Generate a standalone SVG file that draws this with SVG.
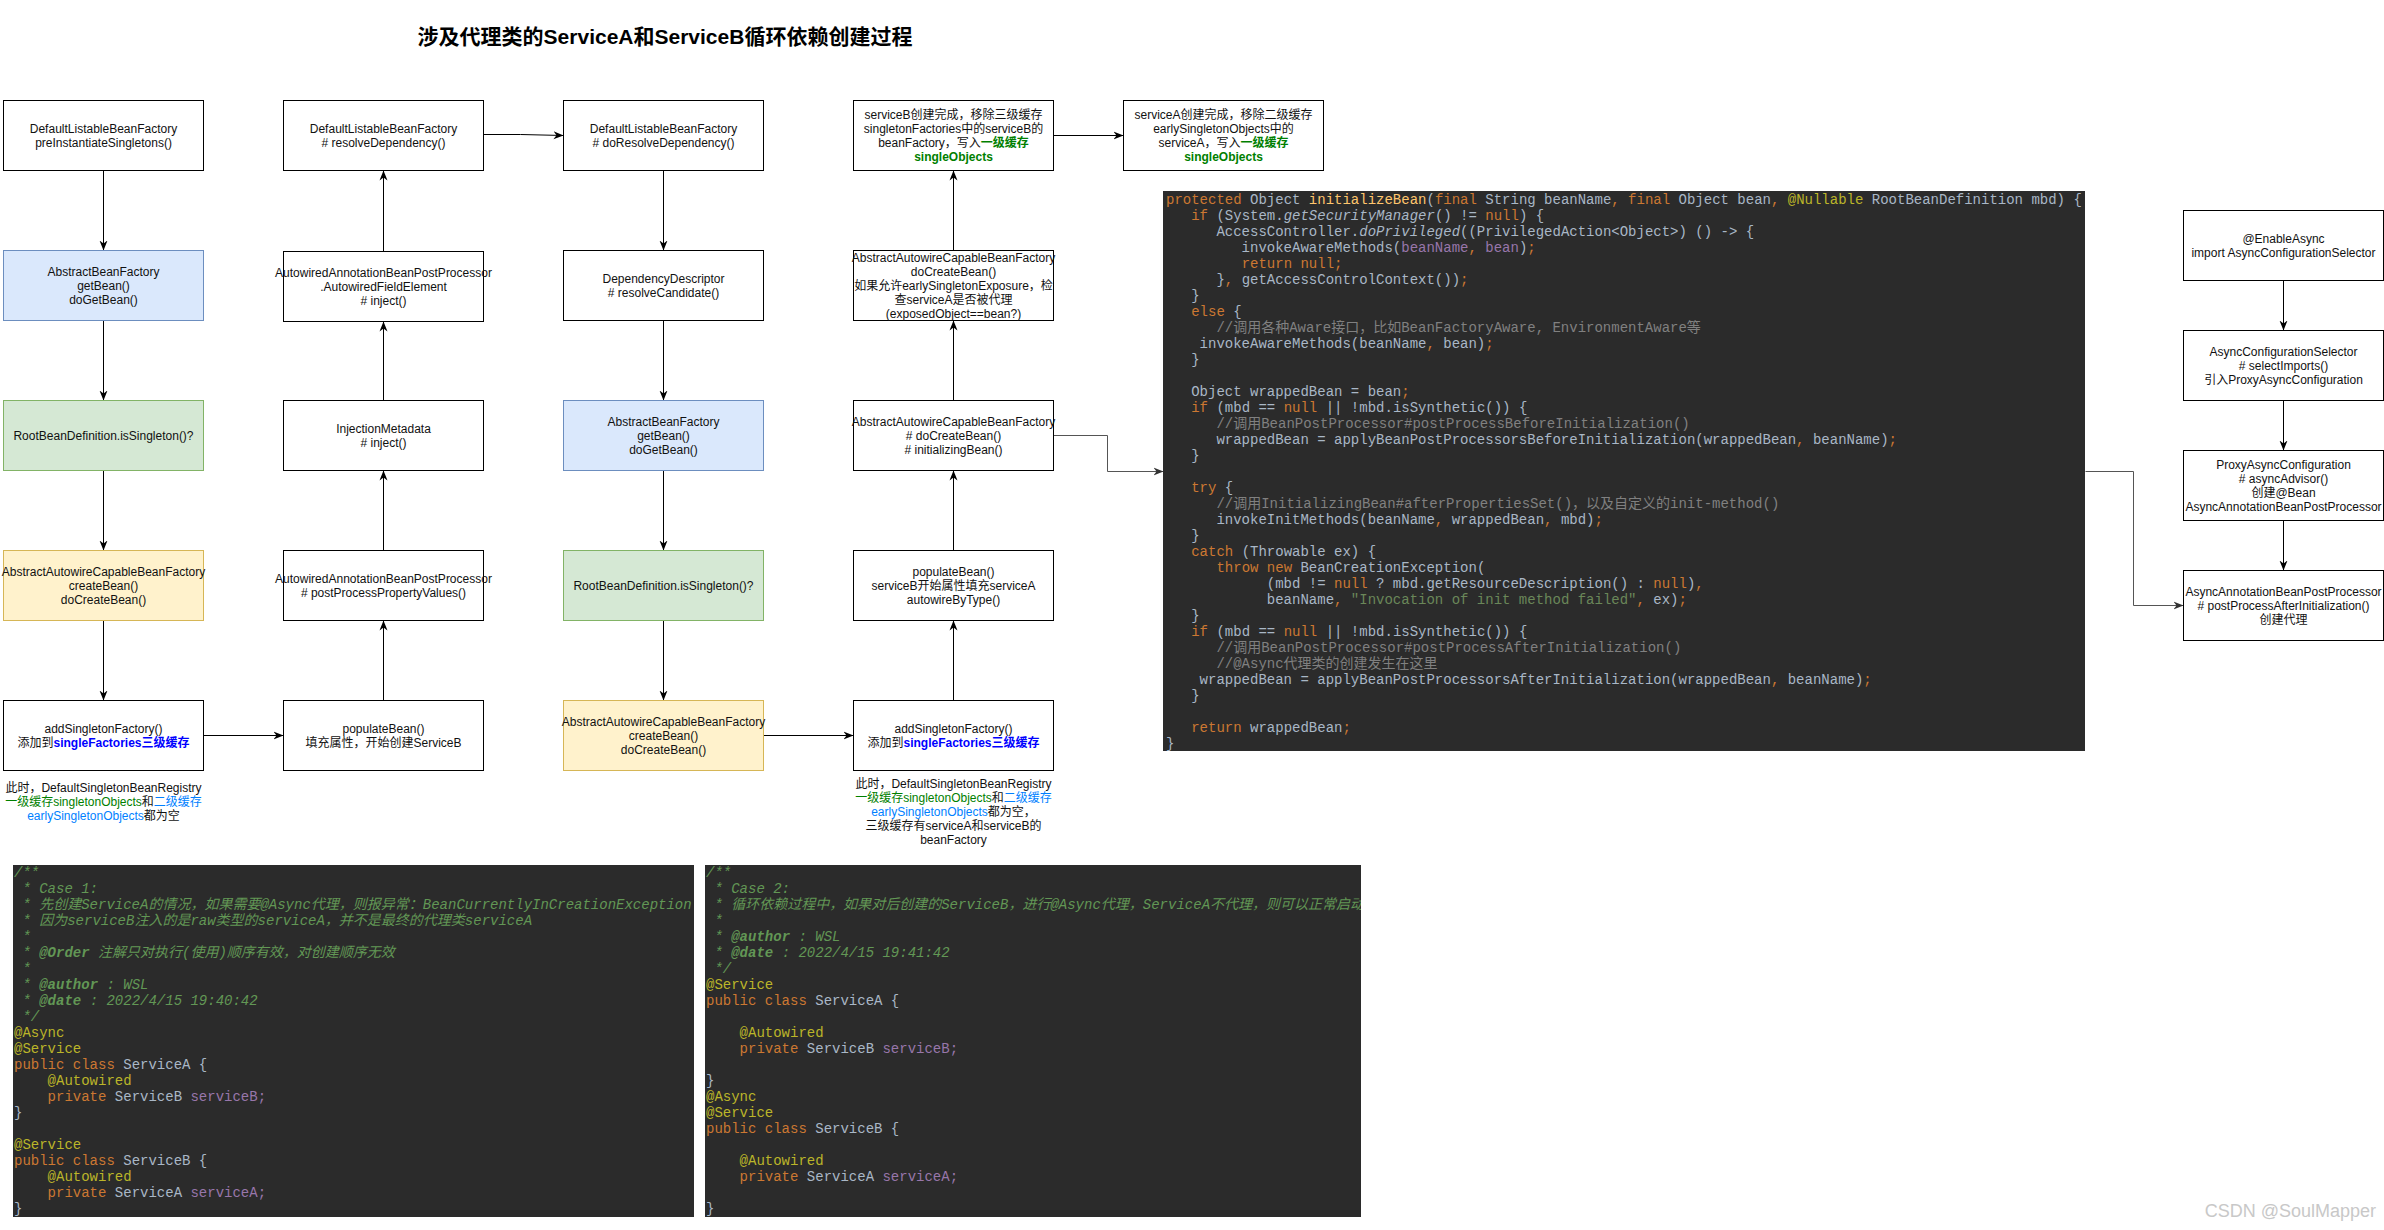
<svg xmlns="http://www.w3.org/2000/svg" width="2384" height="1230" viewBox="0 0 2384 1230">
<style>
.bx{fill:#fff;stroke:#000;stroke-width:1}
.blue{fill:#dae8fc;stroke:#6c8ebf;stroke-width:1}
.green{fill:#d5e8d4;stroke:#82b366;stroke-width:1}
.yellow{fill:#fff2cc;stroke:#d6b656;stroke-width:1}
.t{font-family:"Liberation Sans","Noto Sans CJK SC",sans-serif;font-size:12px;text-anchor:middle;fill:#111}
.title{font-family:"Liberation Sans","Noto Sans CJK SC",sans-serif;font-size:21px;font-weight:bold;text-anchor:middle;fill:#000}
.gb{fill:#007f00;font-weight:bold}
.g{fill:#008000}
.lb{fill:#007fff}
.bb{fill:#0000ff;font-weight:bold}
.cl{fill:none;stroke:#000;stroke-width:1}
.cg{fill:none;stroke:#555;stroke-width:1}
.codebg{fill:#2b2b2b}
.code{font-family:"Liberation Mono","Noto Sans CJK SC",monospace;font-size:14px;fill:#a9b7c6;white-space:pre}
.k{fill:#cc7832}
.m{fill:#ffc66d}
.a{fill:#bbb529}
.c{fill:#808080}
.p{fill:#9876aa}
.s{fill:#6a8759}
.i{font-style:italic}
.jd{fill:#629755;font-style:italic}
.jb{font-weight:bold}
.wm{font-family:"Liberation Sans","Noto Sans CJK SC",sans-serif;font-size:18px;fill:#c8c8c8;text-anchor:end}
</style>
<defs>
<marker id="arr" viewBox="0 0 10 10" refX="10" refY="5" markerWidth="10" markerHeight="10" markerUnits="userSpaceOnUse" orient="auto">
<path d="M0,1 L10,5 L0,9 L3,5 Z" fill="#000"/>
</marker>
<marker id="arrg" viewBox="0 0 10 10" refX="10" refY="5" markerWidth="10" markerHeight="10" markerUnits="userSpaceOnUse" orient="auto">
<path d="M0,1 L10,5 L0,9 L3,5 Z" fill="#333"/>
</marker>
<clipPath id="clip1"><rect x="13" y="865" width="681" height="352"/></clipPath>
<clipPath id="clip2"><rect x="705" y="865" width="656" height="352"/></clipPath>
</defs>
<rect x="0" y="0" width="2384" height="1230" fill="#fff"/>
<text class="title" x="665" y="44">涉及代理类的ServiceA和ServiceB循环依赖创建过程</text>

<g transform="translate(0.5,0.5)">
<g id="connectors">
<path class="cl" d="M103 170V250" marker-end="url(#arr)"/>
<path class="cl" d="M103 320V400" marker-end="url(#arr)"/>
<path class="cl" d="M103 470V550" marker-end="url(#arr)"/>
<path class="cl" d="M103 620V700" marker-end="url(#arr)"/>
<path class="cl" d="M203 735H283" marker-end="url(#arr)"/>
<path class="cl" d="M383 700V620" marker-end="url(#arr)"/>
<path class="cl" d="M383 550V470" marker-end="url(#arr)"/>
<path class="cl" d="M383 400V321" marker-end="url(#arr)"/>
<path class="cl" d="M383 251V170" marker-end="url(#arr)"/>
<path class="cl" d="M483 134H520L563 135" marker-end="url(#arr)"/>
<path class="cl" d="M663 170V250" marker-end="url(#arr)"/>
<path class="cl" d="M663 320V400" marker-end="url(#arr)"/>
<path class="cl" d="M663 470V550" marker-end="url(#arr)"/>
<path class="cl" d="M663 620V700" marker-end="url(#arr)"/>
<path class="cl" d="M763 735H853" marker-end="url(#arr)"/>
<path class="cl" d="M953 700V620" marker-end="url(#arr)"/>
<path class="cl" d="M953 550V470" marker-end="url(#arr)"/>
<path class="cl" d="M953 400V320" marker-end="url(#arr)"/>
<path class="cl" d="M953 250V170" marker-end="url(#arr)"/>
<path class="cl" d="M1053 135H1123" marker-end="url(#arr)"/>
<path class="cg" d="M1053 435H1107V471H1163" marker-end="url(#arrg)"/>
<path class="cg" d="M2085 471H2133V605H2183" marker-end="url(#arrg)"/>
<path class="cl" d="M2283 280V330" marker-end="url(#arr)"/>
<path class="cl" d="M2283 400V450" marker-end="url(#arr)"/>
<path class="cl" d="M2283 520V570" marker-end="url(#arr)"/>
</g>

<g id="A1"><rect class="bx" x="3" y="100" width="200" height="70"/>
<text class="t"><tspan x="103" y="132">DefaultListableBeanFactory</tspan><tspan x="103" y="146">preInstantiateSingletons()</tspan></text></g>
<g id="A2"><rect class="blue" x="3" y="250" width="200" height="70"/>
<text class="t"><tspan x="103" y="275">AbstractBeanFactory</tspan><tspan x="103" y="289">getBean()</tspan><tspan x="103" y="303">doGetBean()</tspan></text></g>
<g id="A3"><rect class="green" x="3" y="400" width="200" height="70"/>
<text class="t"><tspan x="103" y="439">RootBeanDefinition.isSingleton()?</tspan></text></g>
<g id="A4"><rect class="yellow" x="3" y="550" width="200" height="70"/>
<text class="t"><tspan x="103" y="575">AbstractAutowireCapableBeanFactory</tspan><tspan x="103" y="589">createBean()</tspan><tspan x="103" y="603">doCreateBean()</tspan></text></g>
<g id="A5"><rect class="bx" x="3" y="700" width="200" height="70"/>
<text class="t"><tspan x="103" y="732">addSingletonFactory()</tspan><tspan x="103" y="746">添加到<tspan class="bb">singleFactories三级缓存</tspan></tspan></text></g>
<g id="A5note">
<text class="t"><tspan x="103" y="791">此时，DefaultSingletonBeanRegistry</tspan><tspan x="103" y="805"><tspan class="g">一级缓存singletonObjects</tspan>和<tspan class="lb">二级缓存</tspan></tspan><tspan x="103" y="819"><tspan class="lb">earlySingletonObjects</tspan>都为空</tspan></text></g>

<g id="B1"><rect class="bx" x="283" y="100" width="200" height="70"/>
<text class="t"><tspan x="383" y="132">DefaultListableBeanFactory</tspan><tspan x="383" y="146"># resolveDependency()</tspan></text></g>
<g id="B2"><rect class="bx" x="283" y="251" width="200" height="70"/>
<text class="t"><tspan x="383" y="276">AutowiredAnnotationBeanPostProcessor</tspan><tspan x="383" y="290">.AutowiredFieldElement</tspan><tspan x="383" y="304"># inject()</tspan></text></g>
<g id="B3"><rect class="bx" x="283" y="400" width="200" height="70"/>
<text class="t"><tspan x="383" y="432">InjectionMetadata</tspan><tspan x="383" y="446"># inject()</tspan></text></g>
<g id="B4"><rect class="bx" x="283" y="550" width="200" height="70"/>
<text class="t"><tspan x="383" y="582">AutowiredAnnotationBeanPostProcessor</tspan><tspan x="383" y="596"># postProcessPropertyValues()</tspan></text></g>
<g id="B5"><rect class="bx" x="283" y="700" width="200" height="70"/>
<text class="t"><tspan x="383" y="732">populateBean()</tspan><tspan x="383" y="746">填充属性，开始创建ServiceB</tspan></text></g>

<g id="C1"><rect class="bx" x="563" y="100" width="200" height="70"/>
<text class="t"><tspan x="663" y="132">DefaultListableBeanFactory</tspan><tspan x="663" y="146"># doResolveDependency()</tspan></text></g>
<g id="C2"><rect class="bx" x="563" y="250" width="200" height="70"/>
<text class="t"><tspan x="663" y="282">DependencyDescriptor</tspan><tspan x="663" y="296"># resolveCandidate()</tspan></text></g>
<g id="C3"><rect class="blue" x="563" y="400" width="200" height="70"/>
<text class="t"><tspan x="663" y="425">AbstractBeanFactory</tspan><tspan x="663" y="439">getBean()</tspan><tspan x="663" y="453">doGetBean()</tspan></text></g>
<g id="C4"><rect class="green" x="563" y="550" width="200" height="70"/>
<text class="t"><tspan x="663" y="589">RootBeanDefinition.isSingleton()?</tspan></text></g>
<g id="C5"><rect class="yellow" x="563" y="700" width="200" height="70"/>
<text class="t"><tspan x="663" y="725">AbstractAutowireCapableBeanFactory</tspan><tspan x="663" y="739">createBean()</tspan><tspan x="663" y="753">doCreateBean()</tspan></text></g>

<g id="D1"><rect class="bx" x="853" y="100" width="200" height="70"/>
<text class="t"><tspan x="953" y="118">serviceB创建完成，移除三级缓存</tspan><tspan x="953" y="132">singletonFactories中的serviceB的</tspan><tspan x="953" y="146">beanFactory，写入<tspan class="gb">一级缓存</tspan></tspan><tspan x="953" y="160" class="gb">singleObjects</tspan></text></g>
<g id="D2"><rect class="bx" x="853" y="250" width="200" height="70"/>
<text class="t"><tspan x="953" y="261">AbstractAutowireCapableBeanFactory</tspan><tspan x="953" y="275">doCreateBean()</tspan><tspan x="953" y="289">如果允许earlySingletonExposure，检</tspan><tspan x="953" y="303">查serviceA是否被代理</tspan><tspan x="953" y="317">(exposedObject==bean?)</tspan></text></g>
<g id="D3"><rect class="bx" x="853" y="400" width="200" height="70"/>
<text class="t"><tspan x="953" y="425">AbstractAutowireCapableBeanFactory</tspan><tspan x="953" y="439"># doCreateBean()</tspan><tspan x="953" y="453"># initializingBean()</tspan></text></g>
<g id="D4"><rect class="bx" x="853" y="550" width="200" height="70"/>
<text class="t"><tspan x="953" y="575">populateBean()</tspan><tspan x="953" y="589">serviceB开始属性填充serviceA</tspan><tspan x="953" y="603">autowireByType()</tspan></text></g>
<g id="D5"><rect class="bx" x="853" y="700" width="200" height="70"/>
<text class="t"><tspan x="953" y="732">addSingletonFactory()</tspan><tspan x="953" y="746">添加到<tspan class="bb">singleFactories三级缓存</tspan></tspan></text></g>
<g id="D5note">
<text class="t"><tspan x="953" y="787">此时，DefaultSingletonBeanRegistry</tspan><tspan x="953" y="801"><tspan class="g">一级缓存singletonObjects</tspan>和<tspan class="lb">二级缓存</tspan></tspan><tspan x="953" y="815"><tspan class="lb">earlySingletonObjects</tspan>都为空，</tspan><tspan x="953" y="829">三级缓存有serviceA和serviceB的</tspan><tspan x="953" y="843">beanFactory</tspan></text></g>

<g id="E1"><rect class="bx" x="1123" y="100" width="200" height="70"/>
<text class="t"><tspan x="1223" y="118">serviceA创建完成，移除二级缓存</tspan><tspan x="1223" y="132">earlySingletonObjects中的</tspan><tspan x="1223" y="146">serviceA，写入<tspan class="gb">一级缓存</tspan></tspan><tspan x="1223" y="160" class="gb">singleObjects</tspan></text></g>

<g id="R1"><rect class="bx" x="2183" y="210" width="200" height="70"/>
<text class="t"><tspan x="2283" y="242">@EnableAsync</tspan><tspan x="2283" y="256">import AsyncConfigurationSelector</tspan></text></g>
<g id="R2"><rect class="bx" x="2183" y="330" width="200" height="70"/>
<text class="t"><tspan x="2283" y="355">AsyncConfigurationSelector</tspan><tspan x="2283" y="369"># selectImports()</tspan><tspan x="2283" y="383">引入ProxyAsyncConfiguration</tspan></text></g>
<g id="R3"><rect class="bx" x="2183" y="450" width="200" height="70"/>
<text class="t"><tspan x="2283" y="468">ProxyAsyncConfiguration</tspan><tspan x="2283" y="482"># asyncAdvisor()</tspan><tspan x="2283" y="496">创建@Bean</tspan><tspan x="2283" y="510">AsyncAnnotationBeanPostProcessor</tspan></text></g>
<g id="R4"><rect class="bx" x="2183" y="570" width="200" height="70"/>
<text class="t"><tspan x="2283" y="595">AsyncAnnotationBeanPostProcessor</tspan><tspan x="2283" y="609"># postProcessAfterInitialization()</tspan><tspan x="2283" y="623">创建代理</tspan></text></g>
</g>

<g id="initializeBeanCode">
<rect class="codebg" x="1163" y="191" width="922" height="560"/>
<text class="code" xml:space="preserve">
<tspan x="1166" y="204"><tspan class="k">protected</tspan> Object <tspan class="m">initializeBean</tspan>(<tspan class="k">final</tspan> String beanName<tspan class="k">, final</tspan> Object bean<tspan class="k">, </tspan><tspan class="a">@Nullable</tspan> RootBeanDefinition mbd) {</tspan>
<tspan x="1166" y="220">   <tspan class="k">if</tspan> (System.<tspan class="i">getSecurityManager</tspan>() != <tspan class="k">null</tspan>) {</tspan>
<tspan x="1166" y="236">      AccessController.<tspan class="i">doPrivileged</tspan>((PrivilegedAction&lt;Object&gt;) () -&gt; {</tspan>
<tspan x="1166" y="252">         invokeAwareMethods(<tspan class="p">beanName</tspan><tspan class="k">, </tspan><tspan class="p">bean</tspan>)<tspan class="k">;</tspan></tspan>
<tspan x="1166" y="268">         <tspan class="k">return null;</tspan></tspan>
<tspan x="1166" y="284">      }<tspan class="k">, </tspan>getAccessControlContext())<tspan class="k">;</tspan></tspan>
<tspan x="1166" y="300">   }</tspan>
<tspan x="1166" y="316">   <tspan class="k">else</tspan> {</tspan>
<tspan x="1166" y="332" class="c">      //调用各种Aware接口，比如BeanFactoryAware, EnvironmentAware等</tspan>
<tspan x="1166" y="348">    invokeAwareMethods(beanName<tspan class="k">, </tspan>bean)<tspan class="k">;</tspan></tspan>
<tspan x="1166" y="364">   }</tspan>
<tspan x="1166" y="396">   Object wrappedBean = bean<tspan class="k">;</tspan></tspan>
<tspan x="1166" y="412">   <tspan class="k">if</tspan> (mbd == <tspan class="k">null</tspan> || !mbd.isSynthetic()) {</tspan>
<tspan x="1166" y="428" class="c">      //调用BeanPostProcessor#postProcessBeforeInitialization()</tspan>
<tspan x="1166" y="444">      wrappedBean = applyBeanPostProcessorsBeforeInitialization(wrappedBean<tspan class="k">, </tspan>beanName)<tspan class="k">;</tspan></tspan>
<tspan x="1166" y="460">   }</tspan>
<tspan x="1166" y="492">   <tspan class="k">try</tspan> {</tspan>
<tspan x="1166" y="508" class="c">      //调用InitializingBean#afterPropertiesSet()，以及自定义的init-method()</tspan>
<tspan x="1166" y="524">      invokeInitMethods(beanName<tspan class="k">, </tspan>wrappedBean<tspan class="k">, </tspan>mbd)<tspan class="k">;</tspan></tspan>
<tspan x="1166" y="540">   }</tspan>
<tspan x="1166" y="556">   <tspan class="k">catch</tspan> (Throwable ex) {</tspan>
<tspan x="1166" y="572">      <tspan class="k">throw new</tspan> BeanCreationException(</tspan>
<tspan x="1166" y="588">            (mbd != <tspan class="k">null</tspan> ? mbd.getResourceDescription() : <tspan class="k">null</tspan>)<tspan class="k">,</tspan></tspan>
<tspan x="1166" y="604">            beanName<tspan class="k">, </tspan><tspan class="s">"Invocation of init method failed"</tspan><tspan class="k">, </tspan>ex)<tspan class="k">;</tspan></tspan>
<tspan x="1166" y="620">   }</tspan>
<tspan x="1166" y="636">   <tspan class="k">if</tspan> (mbd == <tspan class="k">null</tspan> || !mbd.isSynthetic()) {</tspan>
<tspan x="1166" y="652" class="c">      //调用BeanPostProcessor#postProcessAfterInitialization()</tspan>
<tspan x="1166" y="668" class="c">      //@Async代理类的创建发生在这里</tspan>
<tspan x="1166" y="684">    wrappedBean = applyBeanPostProcessorsAfterInitialization(wrappedBean<tspan class="k">, </tspan>beanName)<tspan class="k">;</tspan></tspan>
<tspan x="1166" y="700">   }</tspan>
<tspan x="1166" y="732">   <tspan class="k">return</tspan> wrappedBean<tspan class="k">;</tspan></tspan>
<tspan x="1166" y="748">}</tspan>
</text>
</g>

<g id="case1Code">
<rect class="codebg" x="13" y="865" width="681" height="352"/>
<g clip-path="url(#clip1)">
<text class="code" xml:space="preserve">
<tspan x="14" y="877" class="jd">/**</tspan>
<tspan x="14" y="893" class="jd"> * Case 1:</tspan>
<tspan x="14" y="909" class="jd"> * 先创建ServiceA的情况，如果需要@Async代理，则报异常：BeanCurrentlyInCreationException</tspan>
<tspan x="14" y="925" class="jd"> * 因为serviceB注入的是raw类型的serviceA，并不是最终的代理类serviceA</tspan>
<tspan x="14" y="941" class="jd"> *</tspan>
<tspan x="14" y="957" class="jd"> * <tspan class="jb">@Order</tspan> 注解只对执行(使用)顺序有效，对创建顺序无效</tspan>
<tspan x="14" y="973" class="jd"> *</tspan>
<tspan x="14" y="989" class="jd"> * <tspan class="jb">@author</tspan> : WSL</tspan>
<tspan x="14" y="1005" class="jd"> * <tspan class="jb">@date</tspan> : 2022/4/15 19:40:42</tspan>
<tspan x="14" y="1021" class="jd"> */</tspan>
<tspan x="14" y="1037" class="a">@Async</tspan>
<tspan x="14" y="1053" class="a">@Service</tspan>
<tspan x="14" y="1069"><tspan class="k">public class</tspan> ServiceA {</tspan>
<tspan x="14" y="1085" class="a">    @Autowired</tspan>
<tspan x="14" y="1101">    <tspan class="k">private</tspan> ServiceB <tspan class="p">serviceB;</tspan></tspan>
<tspan x="14" y="1117">}</tspan>
<tspan x="14" y="1149" class="a">@Service</tspan>
<tspan x="14" y="1165"><tspan class="k">public class</tspan> ServiceB {</tspan>
<tspan x="14" y="1181" class="a">    @Autowired</tspan>
<tspan x="14" y="1197">    <tspan class="k">private</tspan> ServiceA <tspan class="p">serviceA;</tspan></tspan>
<tspan x="14" y="1213">}</tspan>
</text>
</g>
</g>

<g id="case2Code">
<rect class="codebg" x="705" y="865" width="656" height="352"/>
<g clip-path="url(#clip2)">
<text class="code" xml:space="preserve">
<tspan x="706" y="877" class="jd">/**</tspan>
<tspan x="706" y="893" class="jd"> * Case 2:</tspan>
<tspan x="706" y="909" class="jd"> * 循环依赖过程中，如果对后创建的ServiceB，进行@Async代理，ServiceA不代理，则可以正常启动</tspan>
<tspan x="706" y="925" class="jd"> *</tspan>
<tspan x="706" y="941" class="jd"> * <tspan class="jb">@author</tspan> : WSL</tspan>
<tspan x="706" y="957" class="jd"> * <tspan class="jb">@date</tspan> : 2022/4/15 19:41:42</tspan>
<tspan x="706" y="973" class="jd"> */</tspan>
<tspan x="706" y="989" class="a">@Service</tspan>
<tspan x="706" y="1005"><tspan class="k">public class</tspan> ServiceA {</tspan>
<tspan x="706" y="1037" class="a">    @Autowired</tspan>
<tspan x="706" y="1053">    <tspan class="k">private</tspan> ServiceB <tspan class="p">serviceB;</tspan></tspan>
<tspan x="706" y="1085">}</tspan>
<tspan x="706" y="1101" class="a">@Async</tspan>
<tspan x="706" y="1117" class="a">@Service</tspan>
<tspan x="706" y="1133"><tspan class="k">public class</tspan> ServiceB {</tspan>
<tspan x="706" y="1165" class="a">    @Autowired</tspan>
<tspan x="706" y="1181">    <tspan class="k">private</tspan> ServiceA <tspan class="p">serviceA;</tspan></tspan>
<tspan x="706" y="1213">}</tspan>
</text>
</g>
</g>

<text class="wm" x="2376" y="1217">CSDN @SoulMapper</text>
</svg>
